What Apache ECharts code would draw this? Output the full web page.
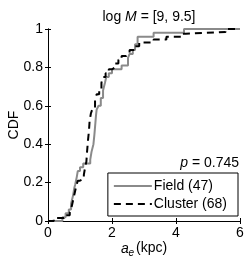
<!DOCTYPE html>
<html><head><meta charset="utf-8">
<script src="https://cdn.jsdelivr.net/npm/echarts@6/dist/echarts.min.js"></script>
<style>html,body{margin:0;padding:0;background:#fff}#c{width:249px;height:259px}</style>
</head><body><div id="c"></div>
<script>
// Step points of the empirical CDFs: x of each jump and the CDF level after it
var fieldX = [0, 0.45, 0.55, 0.65, 0.72, 0.78, 0.82, 0.85, 0.90, 0.93, 1.00, 1.10, 1.32, 1.36, 1.42, 1.45, 1.48, 1.50, 1.52, 1.58, 1.65, 1.72, 1.78, 1.82, 1.90, 2.00, 2.30, 2.50, 2.55, 2.65, 2.72, 2.80, 3.30, 4.25, 6];
var fieldY = [0, 0.02, 0.04, 0.06, 0.09, 0.13, 0.17, 0.19, 0.23, 0.26, 0.28, 0.30, 0.32, 0.36, 0.40, 0.45, 0.51, 0.55, 0.58, 0.60, 0.64, 0.68, 0.72, 0.75, 0.77, 0.79, 0.81, 0.85, 0.87, 0.89, 0.92, 0.96, 0.98, 1.00, 1.00];
var clusterX = [0, 0.18, 0.50, 0.68, 0.72, 0.76, 0.80, 0.84, 0.88, 0.93, 1.00, 1.12, 1.16, 1.20, 1.22, 1.25, 1.28, 1.30, 1.34, 1.40, 1.47, 1.52, 1.60, 1.67, 1.72, 1.80, 1.90, 2.00, 2.10, 2.20, 2.30, 2.45, 2.55, 2.70, 2.85, 3.30, 3.70, 4.20, 4.30, 5.55, 6];
var clusterY = [0, 0.015, 0.03, 0.045, 0.06, 0.09, 0.12, 0.15, 0.18, 0.21, 0.22, 0.24, 0.28, 0.31, 0.36, 0.42, 0.47, 0.52, 0.56, 0.59, 0.63, 0.66, 0.69, 0.72, 0.75, 0.77, 0.79, 0.80, 0.82, 0.84, 0.86, 0.87, 0.89, 0.91, 0.93, 0.945, 0.96, 0.975, 0.985, 1.00, 1.00];
var seriesNames = ['Field (47)', 'Cluster (68)'];
var xTicks = [0, 2, 4, 6];
var yTicks = [0, 0.2, 0.4, 0.6, 0.8, 1];
var yTickLabels = ['0', '0.2', '0.4', '0.6', '0.8', '1'];
var pText = '0.745';

function pairs(xs, ys) { return xs.map(function (x, i) { return [x, ys[i]]; }); }

var F = 'Liberation Sans, Arial, Helvetica, sans-serif';
var FS = 14;
var chart = echarts.init(document.getElementById('c'), null, { renderer: 'canvas' });
var tick = { show: true, inside: true, length: 3, lineStyle: { color: '#000', width: 1 } };
function txt(x, y, s, size, italic, align, rot) {
  return { type: 'text', x: x, y: y, rotation: rot || 0, z: 10,
    style: { text: s, fontSize: size, fontStyle: italic ? 'italic' : 'normal', fontFamily: F, fill: '#000',
      align: align || 'left', verticalAlign: 'middle' } };
}
var graphics = [
  { type: 'text', right: 10, top: 156,
    style: { text: '{i|p}{n| = ' + pText + '}', rich: {
      i: { fontSize: FS, fontStyle: 'italic', fill: '#000', fontFamily: F },
      n: { fontSize: FS, fill: '#000', fontFamily: F } } } },
  txt(14, 125, 'CDF', FS, false, 'center', Math.PI / 2),
  txt(121, 249, 'a', FS, true, 'left'),
  txt(128.5, 253, 'e', 10, true, 'left'),
  txt(136, 248, '(kpc)', FS, false, 'left')
];
chart.setOption({
  animation: false,
  backgroundColor: '#fff',
  textStyle: { fontFamily: F },
  title: {
    text: '{n|log }{i|M}{n| = [9, 9.5]}',
    left: 144, top: 5, textAlign: 'center',
    textStyle: { fontWeight: 'normal', rich: {
      n: { fontSize: FS, color: '#000', fontFamily: F, fontWeight: 'normal' },
      i: { fontSize: FS, color: '#000', fontStyle: 'italic', fontFamily: F, fontWeight: 'normal' } } }
  },
  grid: { left: 48, right: 9, top: 29, bottom: 38, outerBoundsMode: 'none' },
  xAxis: [{
    type: 'value', min: 0, max: 6, interval: 2,
    axisLine: { show: true, lineStyle: { color: '#777', width: 1 } },
    axisTick: tick, splitLine: { show: false },
    axisLabel: { fontSize: FS, color: '#000', margin: 5, fontFamily: F }
  }, {
    type: 'value', min: 0, max: 6, interval: 2, position: 'top',
    axisLine: { show: true, lineStyle: { color: '#000', width: 1 } },
    axisTick: tick, axisLabel: { show: false }, splitLine: { show: false }
  }],
  yAxis: [{
    type: 'value', min: 0, max: 1, interval: 0.2,
    axisLine: { show: true, lineStyle: { color: '#000', width: 1 } },
    axisTick: tick, splitLine: { show: false },
    axisLabel: { show: false }
  }, {
    type: 'value', min: 0, max: 1, interval: 0.2, position: 'right',
    axisLine: { show: true, lineStyle: { color: '#000', width: 1 } },
    axisTick: tick, axisLabel: { show: false }, splitLine: { show: false }
  }],
  legend: {
    orient: 'vertical', right: 11, bottom: 43,
    data: seriesNames,
    itemWidth: 38, itemHeight: 14, itemGap: 4,
    padding: [6, 11, 5, 5],
    itemStyle: { opacity: 0 },
    borderColor: '#000', borderWidth: 1, backgroundColor: '#fff',
    textStyle: { fontSize: FS, lineHeight: 14, color: '#000', fontFamily: F, padding: [0, 0, 0, -3] }
  },
  graphic: graphics,
  series: [{
    name: seriesNames[0], type: 'line', step: 'end', symbol: 'none', clip: true,
    data: pairs(fieldX, fieldY),
    lineStyle: { color: '#8a8a8a', width: 2 }, itemStyle: { color: '#8a8a8a' }, z: 2
  }, {
    name: seriesNames[1], type: 'line', step: 'end', symbol: 'none', clip: true,
    data: pairs(clusterX, clusterY),
    lineStyle: { color: '#000', width: 2, type: [7, 5] }, itemStyle: { color: '#000' }, z: 3
  }]
});
// y tick labels placed through the y axis scale
var axisX = chart.convertToPixel({ xAxisIndex: 0 }, 0);
var labels = yTicks.map(function (v, i) {
  return txt(axisX - 5, chart.convertToPixel({ yAxisIndex: 0 }, v), yTickLabels[i], FS, false, 'right');
});
chart.setOption({ graphic: graphics.concat(labels) });
</script></body></html>
